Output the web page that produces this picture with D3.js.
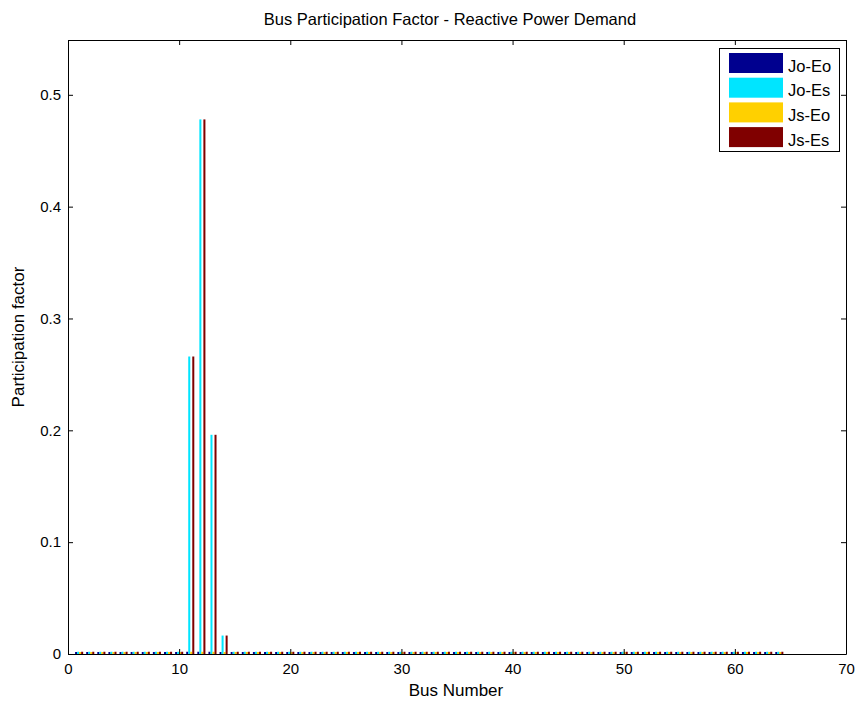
<!DOCTYPE html>
<html>
<head>
<meta charset="utf-8">
<script src="https://cdn.jsdelivr.net/npm/d3@7"></script>
<style>
  html, body { margin: 0; padding: 0; background: #fff; }
  svg { display: block; font-family: "Liberation Sans", Arial, sans-serif; }
</style>
</head>
<body>
<svg id="chart" width="859" height="702"></svg>
<script>
// Bus numbers 1..64
const buses = d3.range(1, 65);

// Participation factors per bus for each case
const joEo = [
  0.0018, 0.0018, 0.0018, 0.0018, 0.0018, 0.0018, 0.0018, 0.0018, 0.0018, 0.0018,
  0.0020, 0.0020, 0.0020, 0.0018, 0.0018, 0.0018, 0.0018, 0.0018, 0.0018, 0.0018,
  0.0018, 0.0018, 0.0018, 0.0018, 0.0018, 0.0018, 0.0018, 0.0018, 0.0018, 0.0018,
  0.0018, 0.0018, 0.0018, 0.0018, 0.0018, 0.0018, 0.0018, 0.0018, 0.0018, 0.0018,
  0.0018, 0.0018, 0.0018, 0.0018, 0.0018, 0.0018, 0.0018, 0.0018, 0.0018, 0.0018,
  0.0018, 0.0018, 0.0018, 0.0018, 0.0018, 0.0018, 0.0018, 0.0018, 0.0018, 0.0018,
  0.0018, 0.0018, 0.0018, 0.0018
];
const joEs = [
  0.0020, 0.0020, 0.0020, 0.0020, 0.0020, 0.0020, 0.0020, 0.0020, 0.0020, 0.0020,
  0.2660, 0.4780, 0.1960, 0.0165, 0.0020, 0.0020, 0.0020, 0.0020, 0.0020, 0.0020,
  0.0020, 0.0020, 0.0020, 0.0020, 0.0020, 0.0020, 0.0020, 0.0020, 0.0020, 0.0020,
  0.0020, 0.0020, 0.0020, 0.0020, 0.0020, 0.0020, 0.0020, 0.0020, 0.0020, 0.0020,
  0.0020, 0.0020, 0.0020, 0.0020, 0.0020, 0.0020, 0.0020, 0.0020, 0.0020, 0.0020,
  0.0020, 0.0020, 0.0020, 0.0020, 0.0020, 0.0020, 0.0020, 0.0020, 0.0020, 0.0020,
  0.0020, 0.0020, 0.0020, 0.0020
];
const jsEo = [
  0.0018, 0.0018, 0.0018, 0.0018, 0.0018, 0.0018, 0.0018, 0.0018, 0.0018, 0.0018,
  0.0020, 0.0020, 0.0020, 0.0018, 0.0018, 0.0018, 0.0018, 0.0018, 0.0018, 0.0018,
  0.0018, 0.0018, 0.0018, 0.0018, 0.0018, 0.0018, 0.0018, 0.0018, 0.0018, 0.0018,
  0.0018, 0.0018, 0.0018, 0.0018, 0.0018, 0.0018, 0.0018, 0.0018, 0.0018, 0.0018,
  0.0018, 0.0018, 0.0018, 0.0018, 0.0018, 0.0018, 0.0018, 0.0018, 0.0018, 0.0018,
  0.0018, 0.0018, 0.0018, 0.0018, 0.0018, 0.0018, 0.0018, 0.0018, 0.0018, 0.0018,
  0.0018, 0.0018, 0.0018, 0.0018
];
const jsEs = [
  0.0020, 0.0020, 0.0020, 0.0020, 0.0020, 0.0020, 0.0020, 0.0020, 0.0020, 0.0020,
  0.2660, 0.4780, 0.1960, 0.0165, 0.0020, 0.0020, 0.0020, 0.0020, 0.0020, 0.0020,
  0.0020, 0.0020, 0.0020, 0.0020, 0.0020, 0.0020, 0.0020, 0.0020, 0.0020, 0.0020,
  0.0020, 0.0020, 0.0020, 0.0020, 0.0020, 0.0020, 0.0020, 0.0020, 0.0020, 0.0020,
  0.0020, 0.0020, 0.0020, 0.0020, 0.0020, 0.0020, 0.0020, 0.0020, 0.0020, 0.0020,
  0.0020, 0.0020, 0.0020, 0.0020, 0.0020, 0.0020, 0.0020, 0.0020, 0.0020, 0.0020,
  0.0020, 0.0020, 0.0020, 0.0020
];

const seriesNames = ["Jo-Eo", "Jo-Es", "Js-Eo", "Js-Es"];
const seriesColors = ["#00008f", "#00e5ff", "#ffd000", "#800000"];
const seriesValues = [joEo, joEs, jsEo, jsEs];

const xTicks = [0, 10, 20, 30, 40, 50, 60, 70];
const yTicks = [0, 0.1, 0.2, 0.3, 0.4, 0.5];
const yMax = 0.549;

const svg = d3.select("#chart");
const box = { left: 68, right: 846, top: 40, bottom: 654 };

const x = d3.scaleLinear().domain([0, 70]).range([box.left, box.right]);
const y = d3.scaleLinear().domain([0, yMax]).range([box.bottom, box.top]);

// Grouped bar geometry: four bars per bus
const nSeries = seriesNames.length;
const groupWidth = Math.min(0.8, nSeries / (nSeries + 1.5));
const slot = groupWidth / nSeries;
const barW = slot;

const bars = svg.append("g");
seriesValues.forEach((vals, si) => {
  const off = (si - (nSeries - 1) / 2) * slot;
  bars.selectAll(null)
    .data(buses.map((b, i) => ({ b, v: vals[i] })))
    .join("rect")
    .attr("x", d => x(d.b + off - barW / 2))
    .attr("width", d => x(barW) - x(0))
    .attr("y", d => y(d.v))
    .attr("height", d => y(0) - y(d.v))
    .attr("fill", seriesColors[si]);
});

// Box axes with inward ticks
const tickFont = 15;
const axB = d3.axisBottom(x).tickValues(xTicks).tickSizeInner(-5).tickSizeOuter(0).tickPadding(9).tickFormat(d3.format("d"));
const axT = d3.axisTop(x).tickValues(xTicks).tickSizeInner(-5).tickSizeOuter(0).tickFormat("");
const axL = d3.axisLeft(y).tickValues(yTicks).tickSizeInner(-5).tickSizeOuter(0).tickPadding(7).tickFormat(d => d === 0 ? "0" : d3.format(".1f")(d));
const axR = d3.axisRight(y).tickValues(yTicks).tickSizeInner(-5).tickSizeOuter(0).tickFormat("");

function styleAxis(g) {
  g.selectAll("path").attr("stroke", "#000").attr("stroke-width", 1);
  g.selectAll("line").attr("stroke", "#000");
  g.selectAll("text").attr("fill", "#000").attr("font-size", tickFont).attr("font-family", "Liberation Sans, Arial, sans-serif");
}

svg.append("g").attr("transform", `translate(0,${box.bottom})`).call(axB).call(styleAxis);
svg.append("g").attr("transform", `translate(0,${box.top})`).call(axT).call(styleAxis);
svg.append("g").attr("transform", `translate(${box.left},0)`).call(axL).call(styleAxis);
svg.append("g").attr("transform", `translate(${box.right},0)`).call(axR).call(styleAxis);

// Title and axis labels
svg.append("text")
  .attr("x", 450).attr("y", 25)
  .attr("text-anchor", "middle").attr("font-size", 16.5).attr("fill", "#000")
  .text("Bus Participation Factor - Reactive Power Demand");

svg.append("text")
  .attr("x", 456).attr("y", 696)
  .attr("text-anchor", "middle").attr("font-size", 17).attr("fill", "#000")
  .text("Bus Number");

svg.append("text")
  .attr("transform", `translate(24,337) rotate(-90)`)
  .attr("text-anchor", "middle").attr("font-size", 17).attr("fill", "#000")
  .text("Participation factor");

// Legend
const lg = svg.append("g").attr("transform", "translate(719,48)");
lg.append("rect").attr("x", 0.5).attr("y", 0.5).attr("width", 120).attr("height", 103)
  .attr("fill", "#fff").attr("stroke", "#000");
seriesNames.forEach((name, i) => {
  const yy = 5 + i * 24.7;
  lg.append("rect").attr("x", 10).attr("y", yy).attr("width", 54).attr("height", 20)
    .attr("fill", seriesColors[i]);
  lg.append("text").attr("x", 69).attr("y", yy + 18.5)
    .attr("font-size", 16.5).attr("fill", "#000").text(name);
});
</script>
</body>
</html>
